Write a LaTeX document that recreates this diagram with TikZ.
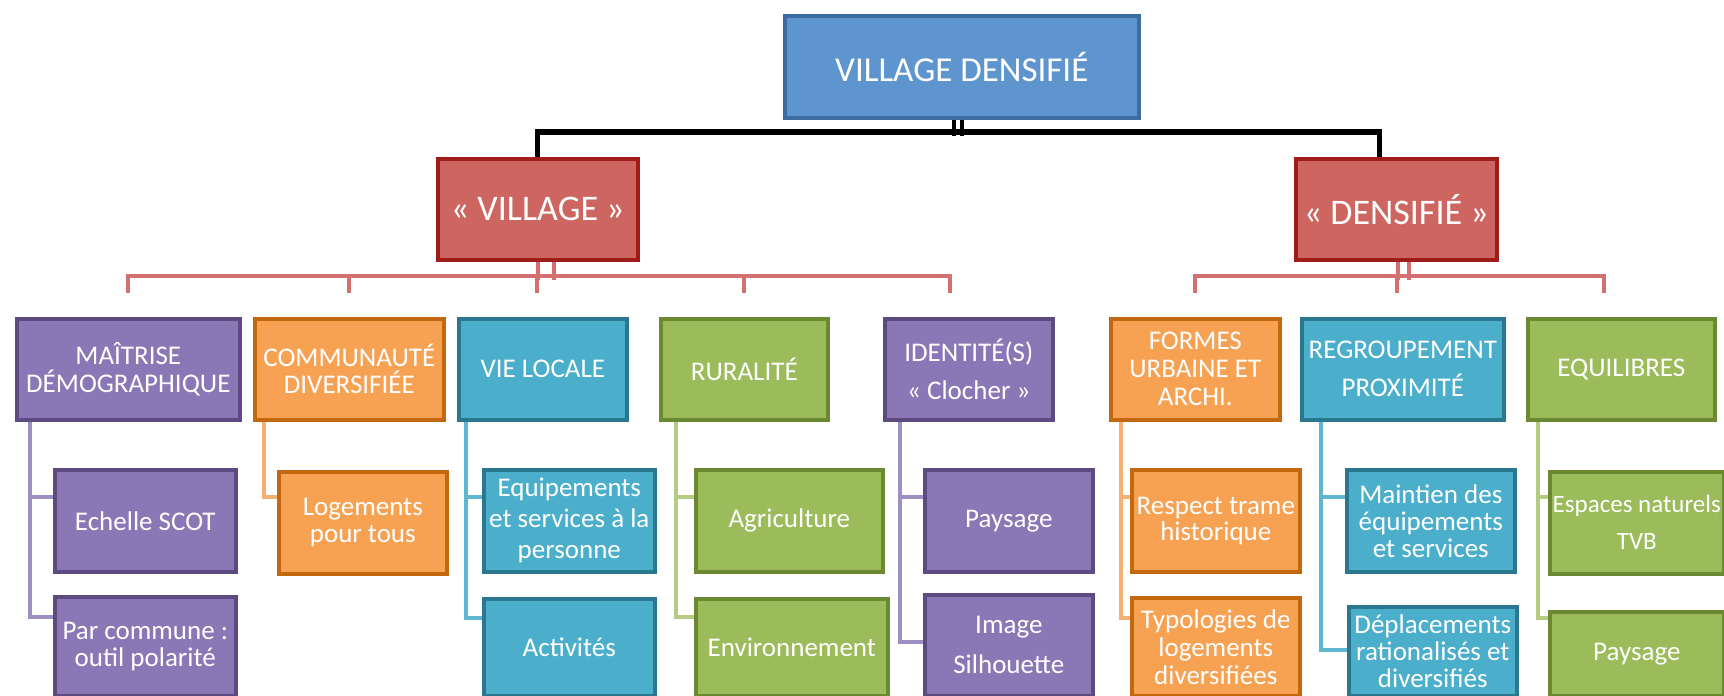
\documentclass[tikz,border=0pt]{standalone}
\usepackage{fontspec}
\setmainfont{Carlito}
\usetikzlibrary{backgrounds}

\definecolor{topF}{HTML}{5F95CE}
\definecolor{topD}{HTML}{3D6CA3}
\definecolor{redF}{HTML}{CD6660}
\definecolor{redD}{HTML}{A01C19}
\definecolor{redL}{HTML}{D57070}
\definecolor{purF}{HTML}{8A77B5}
\definecolor{purD}{HTML}{5C4A80}
\definecolor{purL}{HTML}{9D8EC4}
\definecolor{ornF}{HTML}{F7A253}
\definecolor{ornD}{HTML}{C4680F}
\definecolor{ornL}{HTML}{F6B072}
\definecolor{tealF}{HTML}{4BAECB}
\definecolor{tealD}{HTML}{2A7890}
\definecolor{tealL}{HTML}{5FB7CF}
\definecolor{grnF}{HTML}{9CBB5A}
\definecolor{grnD}{HTML}{6A8931}
\definecolor{grnL}{HTML}{B4CC82}

\tikzset{
  box/.style={rectangle,line width=1.8pt,text=white,align=center,inner sep=1pt,anchor=north west,font=\fontsize{13.5}{14}\selectfont},
  wh/.style 2 args={minimum width=#1*0.5pt,minimum height=#2*0.5pt},
  lsk/.style={font=\fontsize{13.5}{#1}\selectfont},
  blu/.style={box,fill=topF,draw=topD},
  rd/.style={box,fill=redF,draw=redD},
  pu/.style={box,fill=purF,draw=purD},
  og/.style={box,fill=ornF,draw=ornD},
  tl/.style={box,fill=tealF,draw=tealD},
  gr/.style={box,fill=grnF,draw=grnD},
  blk/.style={line width=2.2pt,black},
  rdl/.style={line width=2pt,redL},
  pul/.style={line width=2pt,purL},
  ogl/.style={line width=2pt,ornL},
  tll/.style={line width=2pt,tealL},
  grl/.style={line width=2pt,grnL}
}

\begin{document}
\begin{tikzpicture}[x=0.5pt,y=-0.5pt]
    \useasboundingbox (0,0) rectangle (1724,696);
    \clip (0,0) rectangle (1724,696);

    % top and the two halves
    \node[blu,wh={354}{102},font=\fontsize{17.5}{20}\selectfont] (vd) at (783,14) {VILLAGE DENSIFIÉ};
    \node[rd,wh={200}{101},font=\fontsize{18}{20}\selectfont] (village) at (436,157) {« VILLAGE »};
    \node[rd,wh={201}{101},font=\fontsize{18}{20}\selectfont] (densifie) at (1294,157) {« DENSIFIÉ »};

    % themes
    \node[pu,wh={223}{101}] (maitrise) at (15,317) {MAÎTRISE\\DÉMOGRAPHIQUE};
    \node[og,wh={189}{101},lsk=13.5] (communaute) at (253,317) {COMMUNAUTÉ\\DIVERSIFIÉE};
    \node[tl,wh={168}{101}] (vielocale) at (457,317) {VIE LOCALE};
    \node[gr,wh={167}{101}] (ruralite) at (659,317) {RURALITÉ};
    \node[pu,wh={168}{101},lsk=19] (identite) at (883,317) {IDENTITÉ(S)\\« Clocher »};
    \node[og,wh={169}{101}] (formes) at (1109,317) {FORMES\\URBAINE ET\\ARCHI.};
    \node[tl,wh={202}{101},lsk=19] (regroup) at (1300,317) {REGROUPEMENT\\PROXIMITÉ};
    \node[gr,wh={187}{101}] (equilibres) at (1526,317) {EQUILIBRES};

    % first level of details
    \node[pu,wh={181}{102}] (echelle) at (53,468) {Echelle SCOT};
    \node[og,wh={168}{102},lsk=13.5] (logements) at (277,470) {Logements\\pour tous};
    \node[tl,wh={171}{102},lsk=15.5] (equip) at (482,468) {Equipements\\et services à la\\personne};
    \node[gr,wh={187}{102}] (agri) at (694,468) {Agriculture};
    \node[pu,wh={168}{102}] (paysage) at (923,468) {Paysage};
    \node[og,wh={168}{102},lsk=13] (respect) at (1130,468) {Respect trame\\historique};
    \node[tl,wh={168}{102},lsk=13.5] (maintien) at (1345,468) {Maintien des\\équipements\\et services};
    \node[gr,wh={174}{102},font=\fontsize{12.5}{18.5}\selectfont] (espaces) at (1548,470) {Espaces naturels\\TVB};

    % second level of details
    \node[pu,wh={181}{99},lsk=13.5] (parcommune) at (53,595) {Par commune :\\outil polarité};
    \node[tl,wh={171}{97}] (activites) at (482,597) {Activités};
    \node[gr,wh={192}{97}] (environ) at (694,597) {Environnement};
    \node[pu,wh={168}{101},lsk=20] (image) at (923,593) {Image\\Silhouette};
    \node[og,wh={168}{98}] (typologies) at (1130,596) {Typologies de\\logements\\diversifiées};
    \node[tl,wh={168}{89},lsk=13.5] (deplacements) at (1347,605) {Déplacements\\rationalisés et\\diversifiés};
    \node[gr,wh={174}{84}] (paysagebis) at (1548,610) {Paysage};

    % ticks above the themes
    \coordinate (k1) at ([yshift=12pt]maitrise.north);
    \coordinate (k2) at ([yshift=12pt]communaute.north);
    \coordinate (k3) at ([xshift=-3pt,yshift=12pt]vielocale.north);
    \coordinate (k4) at ([yshift=12pt]ruralite.north);
    \coordinate (k5) at ([xshift=-9.5pt,yshift=12pt]identite.north);
    \coordinate (k6) at ([yshift=12pt]formes.north);
    \coordinate (k7) at ([xshift=-3pt,yshift=12pt]regroup.north);
    \coordinate (k8) at ([xshift=-8.75pt,yshift=12pt]equilibres.north);

    \begin{scope}[on background layer]
        \draw[blk] (vd.south) -- ++(0,16);
        \draw[blk] ([xshift=-4pt]vd.south) -- ++(0,16);
        \draw[blk,line width=2.6pt] (village.north) -- ++(0,-25) -| ([xshift=-8.5pt]densifie.north);

        \draw[rdl] (village.south) -- ++(0,18);
        \draw[rdl] ([xshift=8pt]village.south) -- ++(0,18);
        \draw[rdl] (k1) -- ++(0,-17) -| (k5);
        \foreach \k in {k2,k3,k4}
            \draw[rdl] (\k) -- ++(0,-17);
        \draw[rdl] ([xshift=1pt]densifie.south) -- ++(0,18);
        \draw[rdl] ([xshift=6.5pt]densifie.south) -- ++(0,18);
        \draw[rdl] (k6) -- ++(0,-17) -| (k8);
        \draw[rdl] (k7) -- ++(0,-17);

        \draw[pul] ([xshift=7.5pt]maitrise.south west) |- ([yshift=-14.5pt]echelle.north west);
        \draw[pul] ([xshift=7.5pt]maitrise.south west) |- ([yshift=-11pt]parcommune.north west);
        \draw[ogl] ([xshift=5.5pt]communaute.south west) |- ([yshift=-13.5pt]logements.north west);
        \draw[tll] ([xshift=4.5pt]vielocale.south west) |- ([yshift=-14.5pt]equip.north west);
        \draw[tll] ([xshift=4.5pt]vielocale.south west) |- ([yshift=-10.5pt]activites.north west);
        \draw[grl] ([xshift=8.5pt]ruralite.south west) |- ([yshift=-14.5pt]agri.north west);
        \draw[grl] ([xshift=8.5pt]ruralite.south west) |- ([yshift=-10pt]environ.north west);
        \draw[pul] ([xshift=8.5pt]identite.south west) |- ([yshift=-14.5pt]paysage.north west);
        \draw[pul] ([xshift=8.5pt]identite.south west) |- ([yshift=-24.5pt]image.north west);
        \draw[ogl] ([xshift=6pt]formes.south west) |- ([yshift=-14.5pt]respect.north west);
        \draw[ogl] ([xshift=6pt]formes.south west) |- ([yshift=-11pt]typologies.north west);
        \draw[tll] ([xshift=10.5pt]regroup.south west) |- ([yshift=-14.5pt]maintien.north west);
        \draw[tll] ([xshift=10.5pt]regroup.south west) |- ([yshift=-22.5pt]deplacements.north west);
        \draw[grl] ([xshift=6pt]equilibres.south west) |- ([yshift=-13.5pt]espaces.north west);
        \draw[grl] ([xshift=6pt]equilibres.south west) |- ([yshift=-4pt]paysagebis.north west);
    \end{scope}
\end{tikzpicture}
\end{document}
